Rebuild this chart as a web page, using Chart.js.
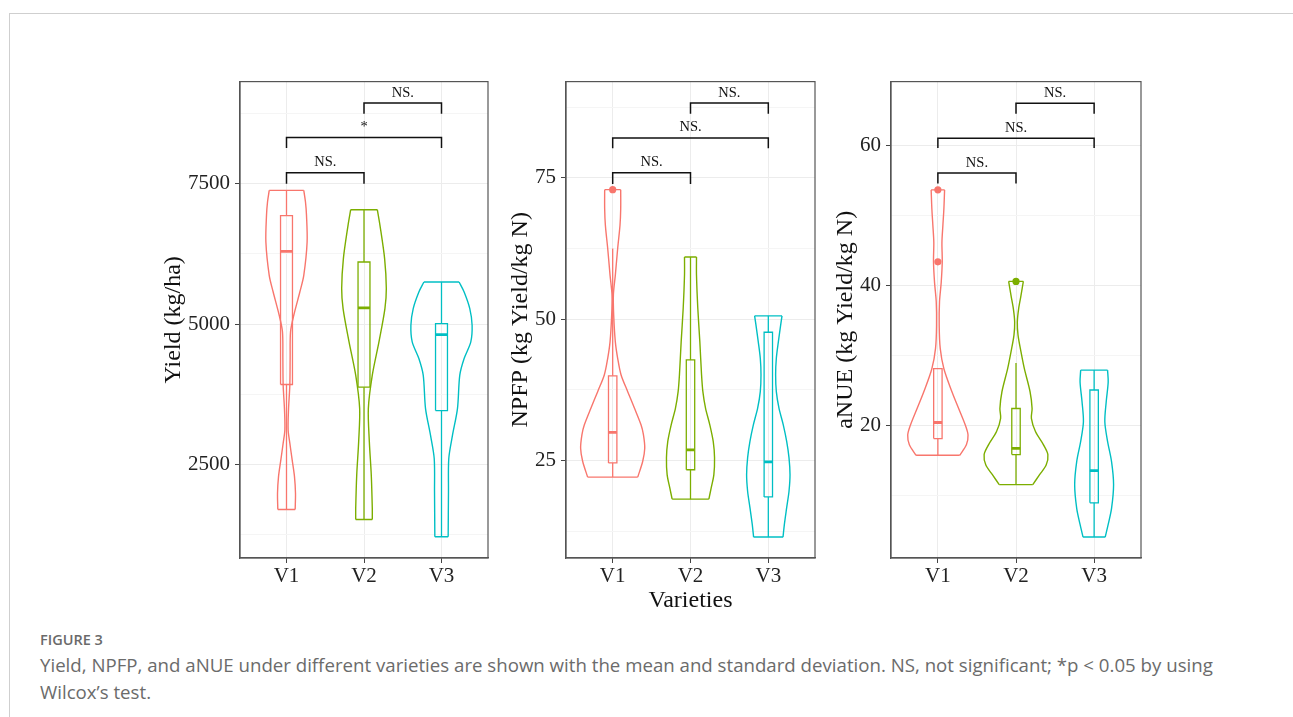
<!DOCTYPE html>
<html>
<head>
<meta charset="utf-8">
<script src="https://cdn.jsdelivr.net/npm/chart.js@4.4.1/dist/chart.umd.min.js"></script>
<style>
  body { margin: 0; background: #fff; }
  #page { position: relative; width: 1293px; height: 717px; overflow: hidden; background: #fff; }
  .rule-top { position: absolute; left: 9px; right: 0; top: 13px; border-top: 1px solid #cfcfcf; }
  .rule-left { position: absolute; left: 9px; top: 13px; bottom: 0; border-left: 1px solid #cfcfcf; }
  canvas { position: absolute; top: 64px; }
  #caption { position: absolute; left: 40px; top: 629px; font-family: "Open Sans", sans-serif; color: #666; }
  #caption .fig { font-size: 14.5px; font-weight: 600; line-height: 22px; color: #6a6a6a; }
  #caption .txt { font-size: 17px; line-height: 27px; white-space: nowrap; color: #6b6b6b; }
</style>
</head>
<body>
<div id="page">
  <div class="rule-top"></div>
  <div class="rule-left"></div>
  <canvas id="p1" width="335" height="551"></canvas>
  <canvas id="p2" width="315" height="551"></canvas>
  <canvas id="p3" width="316" height="551"></canvas>
  <div id="caption">
    <div class="fig">FIGURE 3</div>
    <div class="txt"><span id="line1">Yield, NPFP, and aNUE under different varieties are shown with the mean and standard deviation. NS, not significant; *p &lt; 0.05 by using</span><br>Wilcox’s test.</div>
  </div>
</div>
<script>
const categories = ["V1", "V2", "V3"];
const colors = ["#F8766D", "#7CAE00", "#00BFC4"];
const bracketPairs = [[1, 2], [1, 3], [2, 3]];

// Yield (kg/ha)
const yieldTicks = [2500, 5000, 7500];
const yieldMinorTicks = [1250, 3750, 6250, 8750];
const yieldViolinY = [
  [1699, 1988, 2285, 2582, 2880, 3120, 3480, 3912, 4386, 4861, 5157, 5572, 5869, 6462, 6937, 7174, 7381],
  [1521, 1717, 2310, 2903, 3496, 4090, 4683, 5276, 5632, 6166, 6759, 7037],
  [1213, 2014, 2607, 3022, 3496, 4090, 4386, 4683, 4979, 5276, 5572, 5750]
];
const yieldViolinHalf = [
  [0.112, 0.116, 0.103, 0.073, 0.043, 0.021, 0.026, 0.043, 0.047, 0.052, 0.094, 0.172, 0.223, 0.266, 0.258, 0.245, 0.223],
  [0.107, 0.107, 0.094, 0.069, 0.056, 0.107, 0.193, 0.270, 0.288, 0.266, 0.206, 0.172],
  [0.086, 0.090, 0.094, 0.142, 0.206, 0.236, 0.292, 0.378, 0.395, 0.365, 0.292, 0.227]
];
const yieldLow = [1699, 1521, 1213];
const yieldQ1 = [3924, 3876, 3461];
const yieldMedian = [6296, 5288, 4813];
const yieldQ3 = [6931, 6106, 5009];
const yieldHigh = [7381, 7037, 5750];
const yieldOutliers = [[], [], []];
const yieldBracketY = [7696, 8324, 8935];
const yieldBracketTip = [7500, 8135, 8746];
const yieldBracketLabel = ["NS.", "*", "NS."];

// NPFP (kg Yield/kg N)
const npfpTicks = [25, 50, 75];
const npfpMinorTicks = [12.5, 37.5, 62.5, 87.5];
const npfpViolinY = [
  [22.1, 24.9, 27.2, 29.6, 31.3, 34.3, 37.2, 40.2, 43.1, 46.0, 50.7, 54.3, 57.8, 62.5, 66.6, 69.5, 72.9],
  [18.2, 20.2, 22.5, 25.5, 28.4, 31.3, 34.3, 37.2, 40.2, 46.0, 51.9, 57.8, 61.0],
  [11.5, 13.7, 16.7, 19.6, 22.5, 25.5, 28.4, 31.3, 34.3, 37.2, 40.2, 43.1, 46.0, 49.0, 50.6]
];
const npfpViolinHalf = [
  [0.322, 0.386, 0.412, 0.395, 0.365, 0.279, 0.193, 0.107, 0.064, 0.034, 0.013, 0.009, 0.034, 0.064, 0.094, 0.103, 0.103],
  [0.236, 0.266, 0.300, 0.309, 0.292, 0.249, 0.193, 0.159, 0.142, 0.120, 0.094, 0.077, 0.077],
  [0.189, 0.206, 0.236, 0.266, 0.279, 0.266, 0.236, 0.193, 0.137, 0.103, 0.094, 0.103, 0.129, 0.159, 0.176]
];
const npfpLow = [22.1, 18.2, 11.5];
const npfpQ1 = [24.6, 23.4, 18.6];
const npfpMedian = [30.0, 26.9, 24.8];
const npfpQ3 = [40.0, 42.8, 47.7];
const npfpHigh = [62.5, 61.0, 50.6];
const npfpOutliers = [[72.9], [], []];
const npfpBracketY = [75.9, 82.05, 88.2];
const npfpBracketTip = [73.9, 80.2, 86.3];
const npfpBracketLabel = ["NS.", "NS.", "NS."];

// aNUE (kg Yield/kg N)
const anueTicks = [20, 40, 60];
const anueMinorTicks = [10, 30, 50];
const anueViolinY = [
  [15.7, 17.2, 18.6, 20.0, 22.4, 24.8, 28.1, 31.0, 34.3, 37.7, 40.5, 43.4, 46.2, 48.6, 51.0, 53.7],
  [11.5, 12.9, 14.3, 15.8, 17.2, 19.1, 21.0, 22.4, 24.8, 28.1, 30.5, 32.9, 34.8, 36.7, 38.6, 40.6],
  [4.0, 5.8, 8.1, 11.5, 14.8, 17.7, 20.5, 23.4, 26.2, 27.9]
];
const anueViolinHalf = [
  [0.279, 0.365, 0.386, 0.352, 0.266, 0.180, 0.077, 0.030, 0.017, 0.021, 0.043, 0.056, 0.052, 0.064, 0.077, 0.086],
  [0.215, 0.300, 0.386, 0.408, 0.352, 0.249, 0.197, 0.206, 0.180, 0.107, 0.064, 0.026, 0.017, 0.034, 0.064, 0.094],
  [0.142, 0.180, 0.223, 0.249, 0.223, 0.172, 0.137, 0.155, 0.180, 0.172]
];
const anueLow = [15.7, 11.5, 4.0];
const anueQ1 = [18.1, 15.8, 8.9];
const anueMedian = [20.4, 16.7, 13.5];
const anueQ3 = [28.1, 22.4, 25.05];
const anueHigh = [28.1, 28.9, 27.9];
const anueOutliers = [[53.7, 43.4], [40.6], []];
const anueBracketY = [56.1, 61.1, 66.1];
const anueBracketTip = [54.6, 59.7, 64.6];
const anueBracketLabel = ["NS.", "NS.", "NS."];

const panels = [
  { id: "p1", boxLeft: 240, axisW: 81, yTitle: "Yield (kg/ha)", xTitle: "", min: 835, max: 9318, boxHalf: 0.077,
    ticks: yieldTicks, minor: yieldMinorTicks, vy: yieldViolinY, vh: yieldViolinHalf,
    low: yieldLow, q1: yieldQ1, med: yieldMedian, q3: yieldQ3, high: yieldHigh, out: yieldOutliers,
    by: yieldBracketY, bt: yieldBracketTip, bl: yieldBracketLabel },
  { id: "p2", boxLeft: 566, axisW: 60, yTitle: "NPFP (kg Yield/kg N)", xTitle: "Varieties", min: 7.8, max: 92.0, boxHalf: 0.054,
    ticks: npfpTicks, minor: npfpMinorTicks, vy: npfpViolinY, vh: npfpViolinHalf,
    low: npfpLow, q1: npfpQ1, med: npfpMedian, q3: npfpQ3, high: npfpHigh, out: npfpOutliers,
    by: npfpBracketY, bt: npfpBracketTip, bl: npfpBracketLabel },
  { id: "p3", boxLeft: 891, axisW: 60, yTitle: "aNUE (kg Yield/kg N)", xTitle: "", min: 1.0, max: 69.2, boxHalf: 0.054,
    ticks: anueTicks, minor: anueMinorTicks, vy: anueViolinY, vh: anueViolinHalf,
    low: anueLow, q1: anueQ1, med: anueMedian, q3: anueQ3, high: anueHigh, out: anueOutliers,
    by: anueBracketY, bt: anueBracketTip, bl: anueBracketLabel }
];

const serif = "'Liberation Serif', 'Times New Roman', serif";

function line(data, color, width, tension) {
  return { data, showLine: true, borderColor: color, borderWidth: width, tension: tension || 0,
           pointRadius: 0, fill: false, borderJoinStyle: "miter" };
}

function buildDatasets(p) {
  const sets = [];
  categories.forEach((cat, i) => {
    const c = i + 1, col = colors[i], b = p.boxHalf;
    const ys = p.vy[i], hs = p.vh[i], n = ys.length;
    // violin outline
    sets.push(line(ys.map((y, k) => ({ x: c - hs[k], y })), col, 1.4, 0.3));
    sets.push(line(ys.map((y, k) => ({ x: c + hs[k], y })), col, 1.4, 0.3));
    sets.push(line([{ x: c - hs[0], y: ys[0] }, { x: c + hs[0], y: ys[0] }], col, 1.4));
    sets.push(line([{ x: c - hs[n - 1], y: ys[n - 1] }, { x: c + hs[n - 1], y: ys[n - 1] }], col, 1.4));
    // box plot
    sets.push(line([{ x: c - b, y: p.q1[i] }, { x: c - b, y: p.q3[i] }, { x: c + b, y: p.q3[i] },
                    { x: c + b, y: p.q1[i] }, { x: c - b, y: p.q1[i] }], col, 1.3));
    sets.push(line([{ x: c, y: p.q3[i] }, { x: c, y: p.high[i] }], col, 1.3));
    sets.push(line([{ x: c, y: p.q1[i] }, { x: c, y: p.low[i] }], col, 1.3));
    sets.push(line([{ x: c - b, y: p.med[i] }, { x: c + b, y: p.med[i] }], col, 2.8));
    if (p.out[i].length) {
      sets.push({ data: p.out[i].map(y => ({ x: c, y })), showLine: false, pointRadius: 3.6,
                  pointBackgroundColor: col, pointBorderWidth: 0 });
    }
  });
  // significance brackets
  bracketPairs.forEach(([a, b], k) => {
    sets.push(line([{ x: a, y: p.bt[k] }, { x: a, y: p.by[k] }, { x: b, y: p.by[k] }, { x: b, y: p.bt[k] }], "#111", 1.5));
  });
  return sets;
}

const bracketText = {
  id: "bracketText",
  afterDatasetsDraw(chart, args, opts) {
    const { ctx, scales: { x, y } } = chart;
    ctx.save();
    ctx.font = "14.5px " + serif;
    ctx.fillStyle = "#111";
    ctx.textAlign = "center";
    ctx.textBaseline = "bottom";
    opts.labels.forEach((t, k) => {
      const [a, b] = bracketPairs[k];
      ctx.fillText(t, x.getPixelForValue((a + b) / 2), y.getPixelForValue(opts.heights[k]) - 3);
    });
    ctx.restore();
  }
};

const panelBorder = {
  id: "panelBorder",
  afterDraw(chart) {
    const { ctx, chartArea: a } = chart;
    ctx.save();
    ctx.strokeStyle = "#555";
    ctx.lineWidth = 1.2;
    ctx.strokeRect(a.left, a.top, a.right - a.left, a.bottom - a.top);
    ctx.restore();
  }
};

panels.forEach(p => {
  const canvas = document.getElementById(p.id);
  canvas.style.left = (p.boxLeft - p.axisW) + "px";
  const allTicks = p.ticks.concat(p.minor).sort((a, b) => a - b);
  new Chart(canvas, {
    type: "scatter",
    data: { datasets: buildDatasets(p) },
    options: {
      responsive: false,
      animation: false,
      events: [],
      devicePixelRatio: 1,
      layout: { padding: { top: 10, right: 6, left: 0, bottom: 0 } },
      plugins: {
        legend: { display: false },
        tooltip: { enabled: false },
        bracketText: { labels: p.bl, heights: p.by }
      },
      scales: {
        x: {
          type: "linear", min: 0.4, max: 3.6,
          afterBuildTicks: s => { s.ticks = categories.map((c, i) => ({ value: i + 1 })); },
          afterFit: s => { s.height = 57; },
          ticks: { callback: v => categories[Math.round(v) - 1], font: { family: serif, size: 21 },
                   color: "#222", padding: 1, autoSkip: false, maxRotation: 0 },
          grid: { color: "#ececec", tickColor: "#444", tickLength: 5, lineWidth: 1 },
          border: { color: "#555", width: 1.2 },
          title: { display: p.xTitle !== "", text: p.xTitle, font: { family: serif, size: 24 }, color: "#111", padding: 0 }
        },
        y: {
          type: "linear", min: p.min, max: p.max,
          afterBuildTicks: s => { s.ticks = allTicks.map(v => ({ value: v })); },
          afterFit: s => { s.width = p.axisW; },
          ticks: { callback: v => p.ticks.includes(v) ? String(v) : "", font: { family: serif, size: 21 },
                   color: "#222", padding: 5, autoSkip: false },
          grid: {
            color: ctx => p.ticks.includes(ctx.tick.value) ? "#ececec" : "#f5f5f5",
            tickColor: ctx => p.ticks.includes(ctx.tick.value) ? "#444" : "rgba(0,0,0,0)",
            tickLength: 5
          },
          border: { color: "#555", width: 1.2 },
          title: { display: true, text: p.yTitle, font: { family: serif, size: 24 }, color: "#111", padding: 0 }
        }
      }
    },
    plugins: [bracketText, panelBorder]
  });
});

// fit caption font so the first line spans like the reference
const l1 = document.getElementById("line1");
const w = l1.getBoundingClientRect().width;
if (w > 0) {
  const size = 17 * 1173 / w;
  document.querySelector("#caption .txt").style.fontSize = size.toFixed(2) + "px";
}
</script>
</body>
</html>
